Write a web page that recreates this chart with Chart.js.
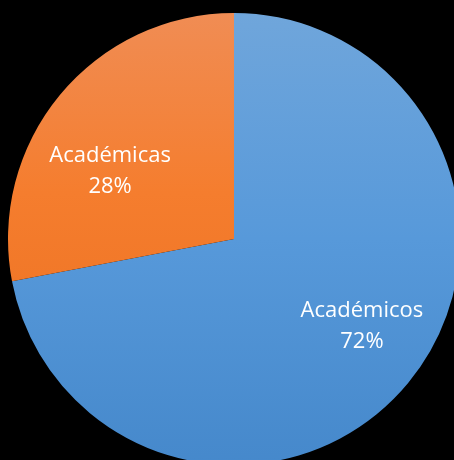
<!DOCTYPE html>
<html>
<head>
<meta charset="utf-8">
<script src="https://cdn.jsdelivr.net/npm/chart.js@4.4.0/dist/chart.umd.min.js"></script>
<style>
  html, body { margin: 0; padding: 0; background: #000; overflow: hidden; }
  #wrap { position: absolute; left: 0; top: 0; width: 468px; height: 478px; }
</style>
</head>
<body>
<div id="wrap"><canvas id="pie"></canvas></div>
<script>
const categories = ['Académicos', 'Académicas'];
const values = [72, 28];
const percentLabels = ['72%', '28%'];
const topColors = ['#70a6db', '#f08d55'];
const midColors = ['#5799da', '#f57d2e'];
const bottomColors = ['#4588cb', '#e96d1c'];
const midStops = [0.5, 0.4];

function sliceFill(context) {
    const chart = context.chart;
    const area = chart.chartArea;
    const i = context.dataIndex;
    if (!area) return midColors[i];
    const arc = chart.getDatasetMeta(0).data[i];
    let top = area.top, bottom = area.bottom;
    if (arc && arc.outerRadius) {
        // vertical extent of this slice
        const ys = [arc.y];
        const a0 = arc.startAngle, a1 = arc.endAngle;
        for (let a = a0; a <= a1; a += 0.01) ys.push(arc.y + Math.sin(a) * arc.outerRadius);
        ys.push(arc.y + Math.sin(a1) * arc.outerRadius);
        top = Math.min.apply(null, ys);
        bottom = Math.max.apply(null, ys);
    }
    const g = chart.ctx.createLinearGradient(0, top, 0, bottom);
    g.addColorStop(0, topColors[i]);
    g.addColorStop(midStops[i], midColors[i]);
    g.addColorStop(1, bottomColors[i]);
    return g;
}

const labelPlugin = {
    id: 'sliceLabels',
    afterDatasetsDraw(chart) {
        const ctx = chart.ctx;
        const meta = chart.getDatasetMeta(0);
        ctx.save();
        ctx.fillStyle = '#ffffff';
        ctx.font = '22px "Open Sans"';
        ctx.textAlign = 'center';
        ctx.textBaseline = 'middle';
        const shifts = [[13, -8], [-9, 27]];
        meta.data.forEach(function (arc, i) {
            const mid = (arc.startAngle + arc.endAngle) / 2;
            const r = arc.outerRadius * 0.66;
            const x = arc.x + Math.cos(mid) * r + shifts[i][0];
            const y = arc.y + Math.sin(mid) * r + shifts[i][1];
            ctx.fillText(categories[i], x, y - 15);
            ctx.fillText(percentLabels[i], x, y + 16);
        });
        ctx.restore();
    }
};

new Chart(document.getElementById('pie'), {
    type: 'pie',
    data: {
        labels: categories,
        datasets: [{
            data: values,
            backgroundColor: sliceFill,
            borderWidth: 0
        }]
    },
    options: {
        responsive: true,
        maintainAspectRatio: false,
        animation: false,
        layout: { padding: 8 },
        plugins: {
            legend: { display: false },
            tooltip: { enabled: false }
        }
    },
    plugins: [labelPlugin]
});
</script>
</body>
</html>
